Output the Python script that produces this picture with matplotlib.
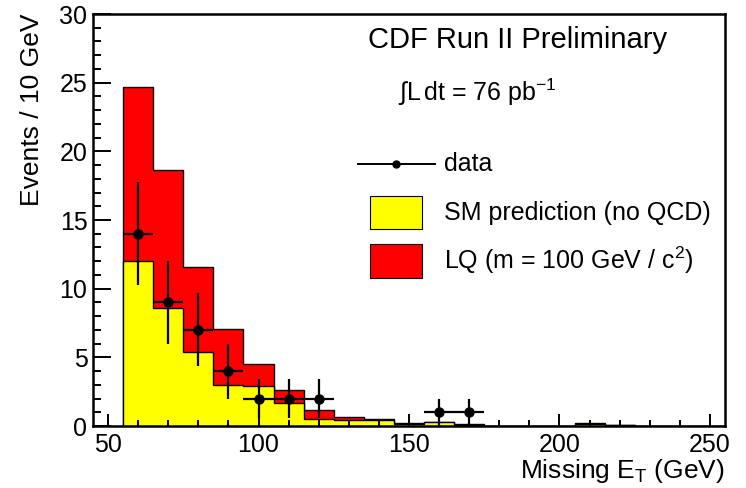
import numpy as np
import matplotlib
matplotlib.use("Agg")
import matplotlib.pyplot as plt
from matplotlib.patches import Rectangle
from matplotlib.ticker import MultipleLocator

plt.rcParams['font.family'] = ['Liberation Sans', 'DejaVu Sans']
plt.rcParams['mathtext.fontset'] = 'custom'
plt.rcParams['mathtext.rm'] = 'Liberation Sans'
plt.rcParams['mathtext.it'] = 'Liberation Sans:italic'

# bin edges, 10 GeV wide
edges = np.arange(55, 256, 10)
# SM prediction (no QCD)
sm = [12.0, 8.6, 5.4, 2.95, 2.9, 1.7, 0.48, 0.42, 0.45, 0.18,
      0.27, 0.1, 0, 0, 0, 0.18, 0.1, 0, 0, 0]
# SM + LQ (m = 100) stacked total
total = [24.7, 18.65, 11.55, 7.05, 4.55, 2.65, 1.17, 0.65, 0.5, 0.25,
         0.28, 0.12, 0, 0, 0, 0.2, 0.1, 0, 0, 0]
# data points
data_x = [60, 70, 80, 90, 100, 110, 120, 160, 170]
data_y = [14, 9, 7, 4, 2, 2, 2, 1, 1]
data_err = [3.74, 3.0, 2.65, 2.0, 1.41, 1.41, 1.41, 1.0, 1.0]

fig = plt.figure(figsize=(7.46, 4.88), dpi=100)
ax = fig.add_axes([93/746, 62/488, 632/746, 412/488])

ax.stairs(total, edges, fill=True, facecolor='#ff0000', edgecolor='none')
ax.stairs(total, edges, color='black', lw=1)
ax.stairs(sm, edges, fill=True, facecolor='#ffff00', edgecolor='none')
ax.stairs(sm, edges, color='black', lw=1)

ax.errorbar(data_x, data_y, yerr=data_err, xerr=5, fmt='o', color='black',
            ms=6.5, elinewidth=1.6, capsize=0, zorder=5)

ax.set_xlim(45, 255)
ax.set_ylim(0, 30)
ax.xaxis.set_major_locator(MultipleLocator(50))
ax.xaxis.set_minor_locator(MultipleLocator(10))
ax.yaxis.set_major_locator(MultipleLocator(5))
ax.yaxis.set_minor_locator(MultipleLocator(1))
ax.tick_params(axis='both', which='both', direction='in', width=1.4,
               labelsize=18, top=False, right=False)
ax.tick_params(axis='x', which='major', length=8.6, pad=5)
ax.tick_params(axis='x', which='minor', length=4.3)
ax.tick_params(axis='y', which='major', length=13, pad=4)
ax.tick_params(axis='y', which='minor', length=6)
for s in ax.spines.values():
    s.set_linewidth(1.8)

ax.set_xlabel('Missing E$_{\\mathrm{T}}$ (GeV)', fontsize=19, loc='right', labelpad=0)
ax.set_ylabel('Events / 10 GeV', fontsize=19, loc='top', labelpad=11)

tr = ax.transAxes
ax.text(0.435, 0.937, 'CDF Run II Preliminary', transform=tr, fontsize=21,
        va='center', ha='left')
ax.text(0.483, 0.811, r'$\int\mathrm{L\,dt}$ = 76 pb$^{-1}$', transform=tr,
        fontsize=18, va='center', ha='left')

# legend
ax.plot([0.419, 0.541], [0.636, 0.636], transform=tr, color='black', lw=1.4)
ax.plot([0.48], [0.636], 'o', transform=tr, color='black', ms=5)
ax.text(0.555, 0.636, 'data', transform=tr, fontsize=18, va='center')
ax.add_patch(Rectangle((0.438, 0.478), 0.083, 0.08, transform=tr,
                       facecolor='#ffff00', edgecolor='black', lw=0.8))
ax.text(0.555, 0.517, 'SM prediction (no QCD)', transform=tr, fontsize=18, va='center')
ax.add_patch(Rectangle((0.438, 0.359), 0.083, 0.083, transform=tr,
                       facecolor='#ff0000', edgecolor='black', lw=0.8))
ax.text(0.555, 0.403, 'LQ (m = 100 GeV / c$^{2}$)', transform=tr, fontsize=18, va='center')

fig.savefig('out.png', dpi=100)
